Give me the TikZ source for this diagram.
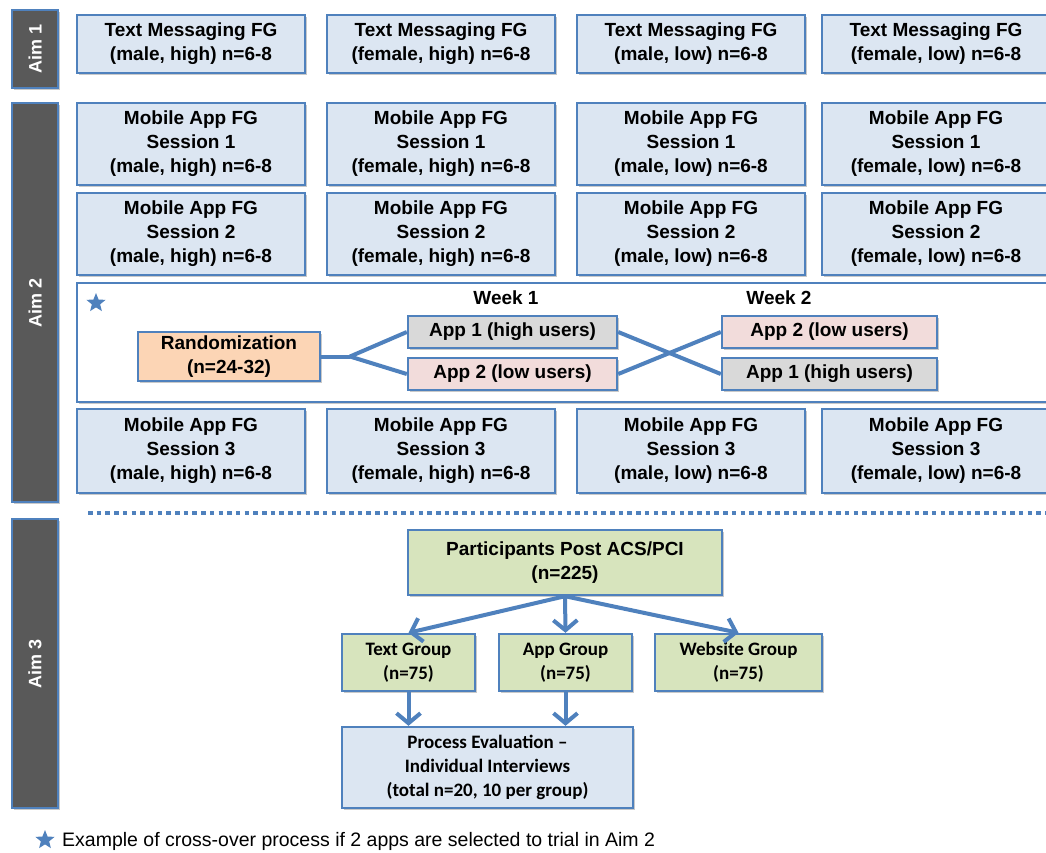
\documentclass[tikz,border=0pt]{standalone}
\usepackage{fontspec}
\setmainfont{Liberation Sans}
\newfontfamily\calfont{Carlito}
\usetikzlibrary{shapes.geometric,arrows.meta,shadows}
\definecolor{bord}{HTML}{4F81BD}
\definecolor{boxblue}{HTML}{DCE6F2}
\definecolor{boxgreen}{HTML}{D7E4BD}
\definecolor{boxorange}{HTML}{FCD5B5}
\definecolor{boxpink}{HTML}{F2DCDB}
\definecolor{boxgray}{HTML}{D9D9D9}
\definecolor{aimgray}{HTML}{595959}
\tikzset{
  shad/.style={drop shadow={shadow xshift=1.5pt,shadow yshift=-2pt,opacity=0.35,fill=black!60}},
  base/.style={draw=bord,line width=2.4pt,align=center,inner sep=0pt,shad,
    font=\bfseries\fontsize{19}{24}\selectfont},
  fg/.style={base,fill=boxblue,minimum width=228pt},
  row1/.style={fg,minimum height=58pt},
  rowS/.style={fg,minimum height=82pt},
  smallbox/.style={base,minimum width=209pt,minimum height=32pt},
  aimbar/.style={draw=bord,line width=2.4pt,fill=aimgray,text=white,rotate=90,
    minimum height=46pt,inner sep=0pt,shad,font=\bfseries\fontsize{18}{20}\selectfont},
  grp/.style={base,fill=boxgreen,minimum height=57pt},
  link/.style={draw=bord,line width=4pt},
  arr/.style={draw=bord,line width=4pt,-{Straight Barb[length=10pt,width=24pt,line width=4pt]}},
  bluestar/.style={star,star points=5,star point ratio=2.3,fill=bord,inner sep=0pt,minimum size=20pt}
}
\begin{document}
\begin{tikzpicture}[x=1pt,y=-1pt]
\useasboundingbox (0,0) rectangle (1046,852);
\fill[white] (0,0) rectangle (1046,852);
\clip (0,0) rectangle (1046,852);

% Aim bars
\node[aimbar,minimum width=78pt] (aim1) at (35,49) {Aim 1};
\node[aimbar,minimum width=399pt] (aim2) at (35,302.5) {Aim 2};
\node[aimbar,minimum width=289pt] (aim3) at (35,663.5) {Aim 3};

% Aim 1 row
\node[row1] (t1) at (191,44) {Text Messaging FG\\(male, high) n=6-8};
\node[row1] (t2) at (441,44) {Text Messaging FG\\(female, high) n=6-8};
\node[row1] (t3) at (691,44) {Text Messaging FG\\(male, low) n=6-8};
\node[row1] (t4) at (936,44) {Text Messaging FG\\(female, low) n=6-8};

% Session 1
\node[rowS] (s11) at (191,144) {Mobile App FG\\Session 1\\(male, high) n=6-8};
\node[rowS] (s12) at (441,144) {Mobile App FG\\Session 1\\(female, high) n=6-8};
\node[rowS] (s13) at (691,144) {Mobile App FG\\Session 1\\(male, low) n=6-8};
\node[rowS] (s14) at (936,144) {Mobile App FG\\Session 1\\(female, low) n=6-8};

% Session 2
\node[rowS] (s21) at (191,234) {Mobile App FG\\Session 2\\(male, high) n=6-8};
\node[rowS] (s22) at (441,234) {Mobile App FG\\Session 2\\(female, high) n=6-8};
\node[rowS] (s23) at (691,234) {Mobile App FG\\Session 2\\(male, low) n=6-8};
\node[rowS] (s24) at (936,234) {Mobile App FG\\Session 2\\(female, low) n=6-8};

% Cross-over panel
\node[draw=bord,line width=2.4pt,fill=white,minimum width=973pt,minimum height=119pt,inner sep=0pt,shad] (panel) at (563.5,342.5) {};
\node[bluestar] (st1) at (96,303) {};
\node[font=\bfseries\fontsize{19}{23}\selectfont] (w1) at (506,298) {Week 1};
\node[font=\bfseries\fontsize{19}{23}\selectfont] (w2) at (779,298) {Week 2};
\node[base,fill=boxorange,minimum width=182pt,minimum height=49pt] (rand) at (229,356.5) {Randomization\\(n=24-32)};
\node[smallbox,fill=boxgray] (a1) at (512.5,332) {App 1 (high users)};
\node[smallbox,fill=boxpink] (a2) at (512.5,374) {App 2 (low users)};
\node[smallbox,fill=boxpink,minimum width=215pt] (b2) at (829.5,332) {App 2 (low users)};
\node[smallbox,fill=boxgray,minimum width=215pt] (b1) at (829.5,374) {App 1 (high users)};
\coordinate (split) at (350,356.5);
\draw[link] (rand.east) -- (split);
\draw[link] (split) -- (a1.west);
\draw[link] (split) -- (a2.west);
\draw[link] (a1.east) -- (b1.west);
\draw[link] (a2.east) -- (b2.west);

% Session 3
\node[rowS,minimum height=84pt] (s31) at (191,451) {Mobile App FG\\Session 3\\(male, high) n=6-8};
\node[rowS,minimum height=84pt] (s32) at (441,451) {Mobile App FG\\Session 3\\(female, high) n=6-8};
\node[rowS,minimum height=84pt] (s33) at (691,451) {Mobile App FG\\Session 3\\(male, low) n=6-8};
\node[rowS,minimum height=84pt] (s34) at (936,451) {Mobile App FG\\Session 3\\(female, low) n=6-8};

% dotted separator
\coordinate (d1) at (88,513);
\coordinate (d2) at (1046,513);
\draw[draw=bord,line width=4pt,dash pattern=on 4.5pt off 4.2pt] (d1) -- (d2);

% Aim 3
\node[grp,minimum width=314pt,minimum height=65pt] (part) at (565,562.5) {Participants Post ACS/PCI\\(n=225)};
\node[grp,minimum width=133pt,font=\calfont\bfseries\fontsize{19}{23.5}\selectfont] (tg) at (408.5,662.5) {Text Group\\(n=75)};
\node[grp,minimum width=133pt,font=\calfont\bfseries\fontsize{19}{23.5}\selectfont] (ag) at (565.5,662.5) {App Group\\(n=75)};
\node[grp,minimum width=167pt,font=\calfont\bfseries\fontsize{19}{23.5}\selectfont] (wg) at (738.5,662.5) {Website Group\\(n=75)};
\node[base,fill=boxblue,minimum width=291pt,minimum height=81pt,font=\calfont\bfseries\fontsize{19}{24}\selectfont] (proc) at (487.5,767.5) {Process Evaluation –\\Individual Interviews\\(total n=20, 10 per group)};

\draw[arr] (part.south) -- (tg.north);
\draw[arr] (part.south) -- (ag.north);
\draw[arr] (part.south) -- (wg.north);
\draw[arr] (tg.south) -- (tg.south |- proc.north);
\draw[arr] (ag.south) -- (ag.south |- proc.north);

% footnote
\node[bluestar] (st2) at (45,840) {};
\node[anchor=west,font=\fontsize{19.5}{22}\selectfont,inner sep=0pt] (foot) at (62,841) {Example of cross-over process if 2 apps are selected to trial in Aim 2};
\end{tikzpicture}
\end{document}
